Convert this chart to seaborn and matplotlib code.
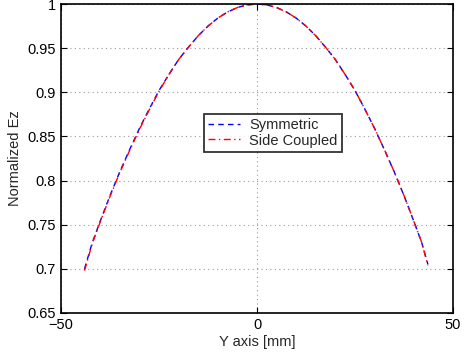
import matplotlib
matplotlib.use("Agg")
import matplotlib.pyplot as plt
import seaborn as sns
import pandas as pd

y_mm = [-44, -42, -40, -37.5, -35, -32.5, -30, -27.5, -25, -22.5, -20, -17.5, -15, -12.5,
        -10, -7.5, -5, -2.5, 0, 2.5, 5, 7.5, 10, 12.5, 15, 17.5, 20, 22.5, 25, 27.5, 30,
        32.5, 35, 37.5, 40, 42, 43.6]
symmetric = [0.700, 0.730, 0.754, 0.783, 0.810, 0.835, 0.859, 0.881, 0.902, 0.920, 0.937,
             0.951, 0.964, 0.975, 0.984, 0.991, 0.996, 0.999, 1.000, 0.999, 0.996, 0.991,
             0.984, 0.975, 0.964, 0.951, 0.937, 0.920, 0.902, 0.881, 0.859, 0.835, 0.810,
             0.783, 0.754, 0.730, 0.705]
side_coupled = [0.698, 0.729, 0.753, 0.782, 0.809, 0.834, 0.858, 0.880, 0.901, 0.920, 0.937,
                0.951, 0.964, 0.975, 0.984, 0.991, 0.996, 0.999, 1.000, 0.999, 0.996, 0.991,
                0.984, 0.975, 0.964, 0.951, 0.937, 0.920, 0.902, 0.881, 0.859, 0.835, 0.810,
                0.783, 0.754, 0.730, 0.704]
series_names = ["Symmetric", "Side Coupled"]
x_ticks = [-50, 0, 50]
y_ticks = [0.65, 0.7, 0.75, 0.8, 0.85, 0.9, 0.95, 1.0]
y_tick_labels = ["0.65", "0.7", "0.75", "0.8", "0.85", "0.9", "0.95", "1"]

df = pd.DataFrame({
    "y": y_mm * 2,
    "Ez": symmetric + side_coupled,
    "series": [series_names[0]] * len(y_mm) + [series_names[1]] * len(y_mm),
})

sns.set_style("white")
plt.rcParams["font.family"] = ["Liberation Sans", "DejaVu Sans"]
plt.rcParams["font.size"] = 10.5

fig = plt.figure(figsize=(4.67, 3.55), dpi=100)
ax = fig.add_axes([61 / 467, 1 - 313 / 355, 392 / 467, 309 / 355])

sns.lineplot(data=df, x="y", y="Ez", hue="series", style="series",
             palette={"Symmetric": "#0000ff", "Side Coupled": "#ff0000"},
             dashes={"Symmetric": (4, 3), "Side Coupled": (5, 2.5, 1, 2.5)},
             linewidth=1.0, ax=ax, legend=True)

ax.set_xlim(-50, 50)
ax.set_ylim(0.65, 1.0)
ax.set_xticks(x_ticks)
ax.set_xticklabels(["\u221250", "0", "50"])
ax.set_yticks(y_ticks)
ax.set_yticklabels(y_tick_labels)
ax.grid(True, linestyle=(0, (1, 3)), color="#999999", linewidth=0.8)
for s in ax.spines.values():
    s.set_visible(True)
    s.set_color("black")
    s.set_linewidth(1.2)
ax.tick_params(direction="in", length=4, width=0.8, colors="black", labelsize=10.5,
               top=True, right=True, bottom=True, left=True)
ax.set_xlabel("Y axis [mm]", fontsize=10.5, labelpad=2)
ax.set_ylabel("Normalized Ez", fontsize=10.5, labelpad=4)

leg = ax.legend(loc="center", bbox_to_anchor=(0.54, 0.583), frameon=True, fancybox=False,
                edgecolor="black", handlelength=2.2, borderpad=0.3, labelspacing=0.1,
                fontsize=10.5, handletextpad=0.6)
leg.get_frame().set_linewidth(1.3)

fig.savefig("out.png", dpi=100)
